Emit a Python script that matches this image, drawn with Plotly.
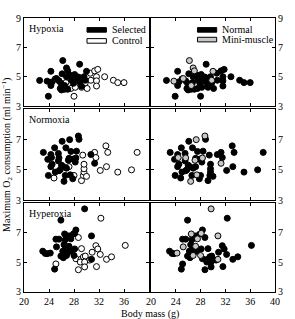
import plotly.graph_objects as go

# ---------------- data ----------------
conditions = ["Hypoxia", "Normoxia", "Hyperoxia"]

# Hypoxia
hypo_mass = [22.5, 23.9, 23.7, 24.3, 24.3, 24.5, 25.0, 25.2, 25.6, 25.8, 26.0, 26.2, 26.1, 25.9, 26.5,
             26.5, 26.8, 27.0, 26.8, 27.4, 27.6, 27.0, 27.9, 28.1, 28.2, 28.7, 28.9, 28.9, 29.6, 30.0,
             29.8, 29.2,
             28.0, 27.5, 28.2, 29.2, 30.1, 30.7, 30.6, 31.3, 31.8, 31.6, 31.6, 31.6, 29.8, 28.9, 26.7,
             32.9, 34.3, 35.0, 36.0]
hypo_vo2 = [4.75, 3.67, 4.70, 4.40, 5.37, 4.65, 4.85, 4.88, 4.72, 4.20, 4.10, 6.10, 5.20, 4.55, 4.40,
            4.15, 5.60, 5.40, 5.00, 5.10, 4.76, 4.15, 4.55, 5.15, 4.90, 4.98, 5.85, 4.65, 5.00, 5.37,
            4.76, 4.35,
            3.67, 4.20, 4.28, 4.28, 4.20, 4.76, 5.24, 5.40, 5.50, 5.00, 4.72, 4.37, 4.59, 4.76, 4.60,
            5.00, 4.76, 4.60, 4.60]
hypo_line = ["S"] * 32 + ["C"] * 19
hypo_mini = [0, 0, 1, 0, 0, 0, 0, 1, 0, 0, 0, 1, 0, 0, 1,
             0, 1, 1, 0, 0, 0, 0, 0, 0, 0, 0, 0, 0, 0, 1,
             1, 0] + [0] * 19

# Normoxia
norm_mass = [23.1, 23.8, 24.3, 24.9, 24.3, 24.5, 23.9, 24.4, 25.5, 25.6, 26.1, 27.3, 26.7, 27.5, 28.7,
             28.8, 28.4, 25.5, 25.8, 26.3, 27.2, 27.1, 26.8, 27.9, 28.3, 28.2, 27.4, 26.6, 26.4, 25.0,
             25.6, 30.7, 31.3, 26.0, 27.8,
             24.8, 27.2, 28.0, 29.2, 29.5, 29.6, 29.6, 29.6, 29.4, 30.0, 31.3, 31.5, 32.2, 33.1, 33.4,
             33.2, 35.0, 37.2, 38.1]
norm_vo2 = [6.14, 5.68, 6.00, 6.44, 5.20, 5.36, 4.62, 5.80, 6.07, 5.78, 6.87, 6.98, 6.44, 6.20, 7.22,
            7.00, 6.22, 5.58, 5.00, 5.20, 5.75, 5.62, 5.10, 5.70, 5.77, 5.50, 4.66, 4.62, 4.23, 4.84,
            4.93, 6.00, 5.42, 5.30, 4.40,
            4.45, 5.20, 4.62, 4.28, 4.62, 4.84, 5.06, 5.36, 5.96, 4.56, 6.14, 5.80, 4.95, 6.57, 6.14,
            5.20, 4.84, 4.99, 6.14]
norm_line = ["S"] * 35 + ["C"] * 19
norm_mini = [0, 0, 0, 0, 0, 0, 0, 1, 0, 1, 0, 1, 0, 0, 1,
             0, 0, 0, 0, 0, 0, 1, 0, 0, 1, 0, 1, 0, 1, 0,
             0, 0, 1, 0, 0] + [0] * 19

# Hyperoxia
hyper_mass = [23.0, 23.4, 23.7, 24.2, 24.9, 25.2, 25.1, 25.6, 25.9, 26.5, 26.6, 26.9, 27.5, 27.3, 26.4,
              26.7, 27.2, 26.2, 25.9, 26.3, 26.8, 26.9, 27.4, 28.0, 28.1, 28.1, 28.3, 27.9, 29.7, 30.8,
              30.8,
              25.1, 28.7, 29.2, 28.3, 29.1, 29.5, 29.8, 30.5, 29.0, 29.7, 29.7, 28.7, 30.9, 31.5, 31.8,
              31.6, 32.2, 32.3, 33.2, 34.0, 36.2]
hyper_vo2 = [5.75, 5.60, 5.58, 5.62, 4.54, 6.04, 6.56, 6.56, 7.84, 6.91, 6.52, 6.78, 6.58, 6.78, 6.19,
             5.97, 6.08, 5.75, 5.42, 5.31, 5.46, 5.64, 5.75, 5.46, 5.90, 6.95, 7.18, 6.91, 8.60, 6.78,
             5.20,
             4.89, 6.67, 5.92, 5.24, 5.20, 5.37, 5.42, 5.15, 5.02, 5.02, 4.69, 4.50, 5.68, 6.12, 5.90,
             4.71, 5.53, 7.97, 5.20, 5.37, 6.14]
hyper_line = ["S"] * 31 + ["C"] * 21
hyper_mini = [0, 0, 0, 1, 0, 1, 0, 0, 0, 1, 0, 0, 1, 0, 0,
              0, 1, 0, 0, 0, 1, 0, 0, 1, 0, 1, 0, 0, 1, 1,
              1] + [0] * 21

x_ticks = [20, 24, 28, 32, 36, 40]
y_ticks = [3, 5, 7, 9]

datasets = [
    (hypo_mass, hypo_vo2, hypo_line, hypo_mini),
    (norm_mass, norm_vo2, norm_line, norm_mini),
    (hyper_mass, hyper_vo2, hyper_line, hyper_mini),
]

# ---------------- figure ----------------
W, H = 295, 319
ml, mr, mt, mb = 24, 12, 14, 22
pw, ph = W - ml - mr, H - mt - mb

FONT = "Liberation Serif"
GRAY = "#c8c8c8"

col_dom = [[0, (153 - ml) / pw], [(155 - ml) / pw, 1]]
row_px = [(14, 105), (108, 202), (205, 297)]
row_dom = [[1 - (b - mt) / ph, 1 - (t - mt) / ph] for t, b in row_px]

fig = go.Figure()
layout = {}

for r in range(3):
    mass, vo2, line, mini = datasets[r]
    for c in range(2):
        idx = r * 2 + c + 1
        xa = "x" if idx == 1 else f"x{idx}"
        ya = "y" if idx == 1 else f"y{idx}"
        if c == 0:
            for g, col in [("C", "white"), ("S", "black")]:
                xs = [m for m, l in zip(mass, line) if l == g]
                ys = [v for v, l in zip(vo2, line) if l == g]
                fig.add_trace(go.Scatter(x=xs, y=ys, mode="markers", xaxis=xa, yaxis=ya,
                                         showlegend=False,
                                         marker=dict(size=6, color=col,
                                                     line=dict(color="black", width=1))))
        else:
            for flag, col in [(0, "black"), (1, GRAY)]:
                xs = [m for m, k in zip(mass, mini) if k == flag]
                ys = [v for v, k in zip(vo2, mini) if k == flag]
                fig.add_trace(go.Scatter(x=xs, y=ys, mode="markers", xaxis=xa, yaxis=ya,
                                         showlegend=False,
                                         marker=dict(size=6, color=col,
                                                     line=dict(color="black", width=1))))
        xkey = "xaxis" if idx == 1 else f"xaxis{idx}"
        ykey = "yaxis" if idx == 1 else f"yaxis{idx}"
        bottom = (r == 2)
        if c == 0:
            xtext = [str(t) for t in x_ticks[:-1]] + [""]
        else:
            xtext = [str(t) for t in x_ticks]
        layout[xkey] = dict(domain=col_dom[c], anchor=ya, range=[20, 40],
                            tickvals=x_ticks, ticktext=xtext,
                            showticklabels=bottom, ticks="inside", ticklen=3,
                            tickcolor="black", showline=True, linecolor="black",
                            linewidth=1, mirror="ticks", showgrid=False, zeroline=False,
                            tickfont=dict(family=FONT, size=10, color="black"))
        ytext = [str(t) for t in y_ticks] if r == 0 else ["3", "5", "7", ""]
        layout[ykey] = dict(domain=row_dom[r], anchor=xa, range=[3, 9],
                            tickvals=y_ticks, ticktext=ytext,
                            side="left" if c == 0 else "right",
                            ticks="inside", ticklen=3, tickcolor="black",
                            showline=True, linecolor="black", linewidth=1,
                            mirror="ticks", showgrid=False, zeroline=False,
                            tickfont=dict(family=FONT, size=10, color="black"))

annotations = []
shapes = []
for r, name in enumerate(conditions):
    xref = "x domain" if r == 0 else f"x{r * 2 + 1} domain"
    yref = "y domain" if r == 0 else f"y{r * 2 + 1} domain"
    annotations.append(dict(text=name, x=0.02, y=0.97, xref=xref, yref=yref,
                            xanchor="left", yanchor="top", showarrow=False,
                            font=dict(family=FONT, size=10, color="black")))

# legends (top row)
legend_items = [
    ("x domain", "y domain", 0.504, [("Selected", "black", 0.865), ("Control", "white", 0.74)]),
    ("x2 domain", "y2 domain", 0.375, [("Normal", "black", 0.865), ("Mini-muscle", GRAY, 0.755)]),
]
for xref, yref, x0, items in legend_items:
    for lab, col, yc in items:
        shapes.append(dict(type="rect", xref=xref, yref=yref,
                           x0=x0, x1=x0 + 0.155, y0=yc - 0.026, y1=yc + 0.026,
                           fillcolor=col, line=dict(color="black", width=1)))
        annotations.append(dict(text=lab, x=x0 + 0.18, y=yc, xref=xref, yref=yref,
                                xanchor="left", yanchor="middle", showarrow=False,
                                font=dict(family=FONT, size=10, color="black")))

annotations.append(dict(text="Maximum O<sub>2</sub> consumption (ml min<sup>−1</sup>)",
                        x=-0.068, y=0.5, xref="paper", yref="paper", textangle=-90,
                        xanchor="center", yanchor="middle", showarrow=False,
                        font=dict(family=FONT, size=10, color="black")))
annotations.append(dict(text="Body mass (g)", x=0.5, y=-0.052, xref="paper", yref="paper",
                        xanchor="center", yanchor="top", showarrow=False,
                        font=dict(family=FONT, size=10, color="black")))

fig.update_layout(width=W, height=H, margin=dict(l=ml, r=mr, t=mt, b=mb),
                  paper_bgcolor="white", plot_bgcolor="white",
                  font=dict(family=FONT),
                  annotations=annotations, shapes=shapes, **layout)

fig.write_html("out.html")
